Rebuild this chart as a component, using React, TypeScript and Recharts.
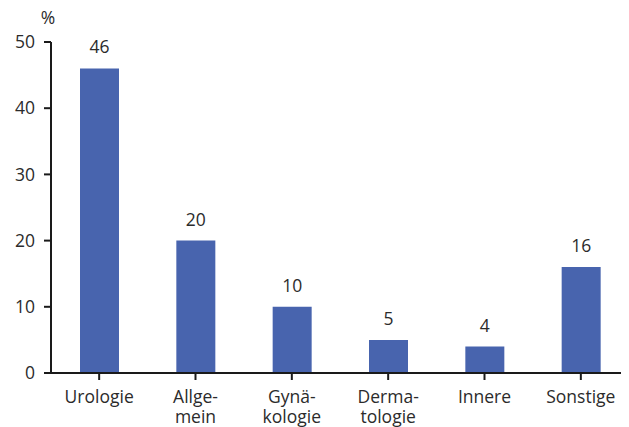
import React from 'react';
import { BarChart, Bar, XAxis, YAxis, LabelList } from 'recharts';

const categories: string[][] = [['Urologie'], ['Allge-', 'mein'], ['Gynä-', 'kologie'], ['Derma-', 'tologie'], ['Innere'], ['Sonstige']];
const values = [46, 20, 10, 5, 4, 16];
const yTicks = [0, 10, 20, 30, 40, 50];

const data = categories.map((c, i) => ({ name: c.join('|'), value: values[i] }));

const FONT = '"Open Sans", sans-serif';
const TEXT = '#2b2b2b';
const AXIS = '#1a1a1a';
const FS = 17.5;

const XTick = (props: any) => {
  const { x, y, payload } = props;
  const lines = String(payload.value).split('|');
  return (
    <text x={x} y={y} textAnchor="middle" fill={TEXT} fontFamily={FONT} fontSize={FS}>
      {lines.map((l, i) => (
        <tspan key={i} x={x} dy={i === 0 ? 21 : 20}>{l}</tspan>
      ))}
    </text>
  );
};

export default function App() {
  return (
    <BarChart width={621} height={419} data={data} margin={{ top: 34, right: 0, left: 0, bottom: 0 }} barCategoryGap="30%">
      <XAxis
        dataKey="name"
        height={54}
        tick={<XTick />}
        tickLine={{ stroke: AXIS, strokeWidth: 2 }}
        axisLine={{ stroke: AXIS, strokeWidth: 2 }}
        tickSize={7}
        interval={0}
      />
      <YAxis
        width={43}
        domain={[0, 50]}
        ticks={yTicks}
        tickSize={7}
        tickMargin={9}
        tick={{ fill: TEXT, fontFamily: FONT, fontSize: FS }}
        tickLine={{ stroke: AXIS, strokeWidth: 2 }}
        axisLine={{ stroke: AXIS, strokeWidth: 2 }}
        label={{
          content: () => (
            <text x={40} y={16} textAnchor="middle" fill={TEXT} fontFamily={FONT} fontSize={FS}>%</text>
          ),
        }}
      />
      <Bar dataKey="value" fill="#4864ae" barSize={39} isAnimationActive={false}>
        <LabelList dataKey="value" position="top" offset={15} fill={TEXT} fontFamily={FONT} fontSize={FS} />
      </Bar>
    </BarChart>
  );
}
